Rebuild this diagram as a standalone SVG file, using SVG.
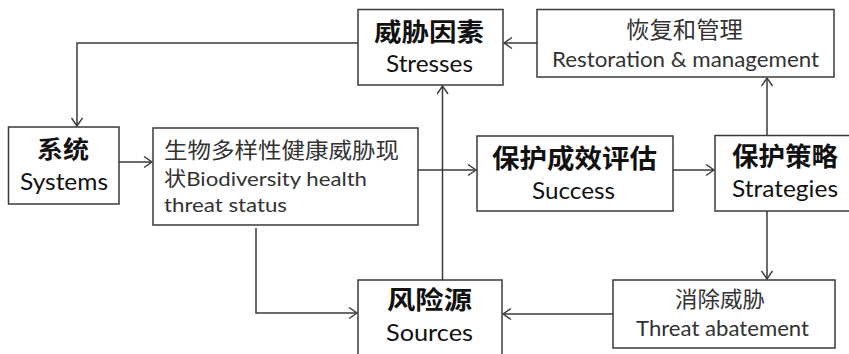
<svg xmlns="http://www.w3.org/2000/svg" width="849" height="354" viewBox="0 0 849 354">
<style>
.box{fill:#fff;stroke:#3a3a3a;stroke-width:1.5}
text{font-family:Lato,"Noto Sans CJK SC",sans-serif;fill:#111}
.cn{font-family:"Noto Sans CJK SC",Lato,sans-serif}
.b{font-weight:bold}
.lt{fill:#333}
.con{fill:none;stroke:#3a3a3a;stroke-width:1.5}
</style>
<defs>
<marker id="arr" markerUnits="userSpaceOnUse" markerWidth="12" markerHeight="14" refX="9" refY="6" orient="auto">
<path d="M1,0.5 L9,6 L1,11.5" fill="none" stroke="#3a3a3a" stroke-width="1.4"/>
</marker>
</defs>
<rect width="849" height="354" fill="#fff"/>
<g id="connectors">
<polyline class="con" points="358,43 77,43 77,126" marker-end="url(#arr)"/>
<line class="con" x1="537" y1="43" x2="504" y2="43" marker-end="url(#arr)"/>
<line class="con" x1="119" y1="162" x2="152" y2="162" marker-end="url(#arr)"/>
<line class="con" x1="418" y1="170" x2="476" y2="170" marker-end="url(#arr)"/>
<line class="con" x1="442.5" y1="280" x2="442.5" y2="86" marker-end="url(#arr)"/>
<line class="con" x1="673" y1="170" x2="714" y2="170" marker-end="url(#arr)"/>
<line class="con" x1="767" y1="135" x2="767" y2="78" marker-end="url(#arr)"/>
<line class="con" x1="767" y1="211" x2="767" y2="279" marker-end="url(#arr)"/>
<polyline class="con" points="256,228 256,313 357,313" marker-end="url(#arr)"/>
<line class="con" x1="613" y1="314" x2="503" y2="314" marker-end="url(#arr)"/>
</g>
<g id="stresses">
<rect class="box" x="358" y="9.5" width="145" height="75.5"/>
<text><tspan class="cn b" x="374" y="41" font-size="25" textLength="110" lengthAdjust="spacingAndGlyphs">威胁因素</tspan><tspan x="386" y="72" font-size="24" textLength="87" lengthAdjust="spacingAndGlyphs">Stresses</tspan></text>
</g>
<g id="restoration">
<rect class="box" x="537" y="9.5" width="297" height="67.5"/>
<text class="lt"><tspan class="cn" x="626" y="38" font-size="23" textLength="117" lengthAdjust="spacingAndGlyphs">恢复和管理</tspan><tspan x="552" y="67" font-size="22" textLength="267" lengthAdjust="spacingAndGlyphs">Restoration &amp; management</tspan></text>
</g>
<g id="systems">
<rect class="box" x="8.5" y="127" width="110.5" height="77"/>
<text><tspan class="cn b" x="37" y="158" font-size="24" textLength="52" lengthAdjust="spacingAndGlyphs">系统</tspan><tspan x="20" y="190" font-size="24" textLength="88" lengthAdjust="spacingAndGlyphs">Systems</tspan></text>
</g>
<g id="biodiversity">
<rect class="box" x="153" y="128" width="265" height="97"/>
<text class="lt"><tspan class="cn" x="164" y="158" font-size="22" textLength="235" lengthAdjust="spacingAndGlyphs">生物多样性健康威胁现</tspan><tspan x="164" y="186" font-size="20" textLength="203" lengthAdjust="spacingAndGlyphs">状Biodiversity health</tspan><tspan x="164" y="212" font-size="20" textLength="123" lengthAdjust="spacingAndGlyphs">threat status</tspan></text>
</g>
<g id="success">
<rect class="box" x="477" y="136" width="196" height="75"/>
<text><tspan class="cn b" x="492" y="168" font-size="26" textLength="165" lengthAdjust="spacingAndGlyphs">保护成效评估</tspan><tspan x="532" y="199" font-size="24" textLength="83" lengthAdjust="spacingAndGlyphs">Success</tspan></text>
</g>
<g id="strategies">
<rect class="box" x="715" y="135.5" width="140" height="75.5"/>
<text><tspan class="cn b" x="732" y="166" font-size="26" textLength="106" lengthAdjust="spacingAndGlyphs">保护策略</tspan><tspan x="732" y="197" font-size="24" textLength="106" lengthAdjust="spacingAndGlyphs">Strategies</tspan></text>
</g>
<g id="sources">
<rect class="box" x="358" y="280" width="144" height="80"/>
<text><tspan class="cn b" x="387" y="309" font-size="25" textLength="85" lengthAdjust="spacingAndGlyphs">风险源</tspan><tspan x="386" y="341" font-size="24" textLength="87" lengthAdjust="spacingAndGlyphs">Sources</tspan></text>
</g>
<g id="abatement">
<rect class="box" x="613" y="280" width="222" height="68"/>
<text class="lt"><tspan class="cn" x="675" y="307" font-size="22" textLength="90" lengthAdjust="spacingAndGlyphs">消除威胁</tspan><tspan x="636" y="336" font-size="22" textLength="173" lengthAdjust="spacingAndGlyphs">Threat abatement</tspan></text>
</g>
</svg>
